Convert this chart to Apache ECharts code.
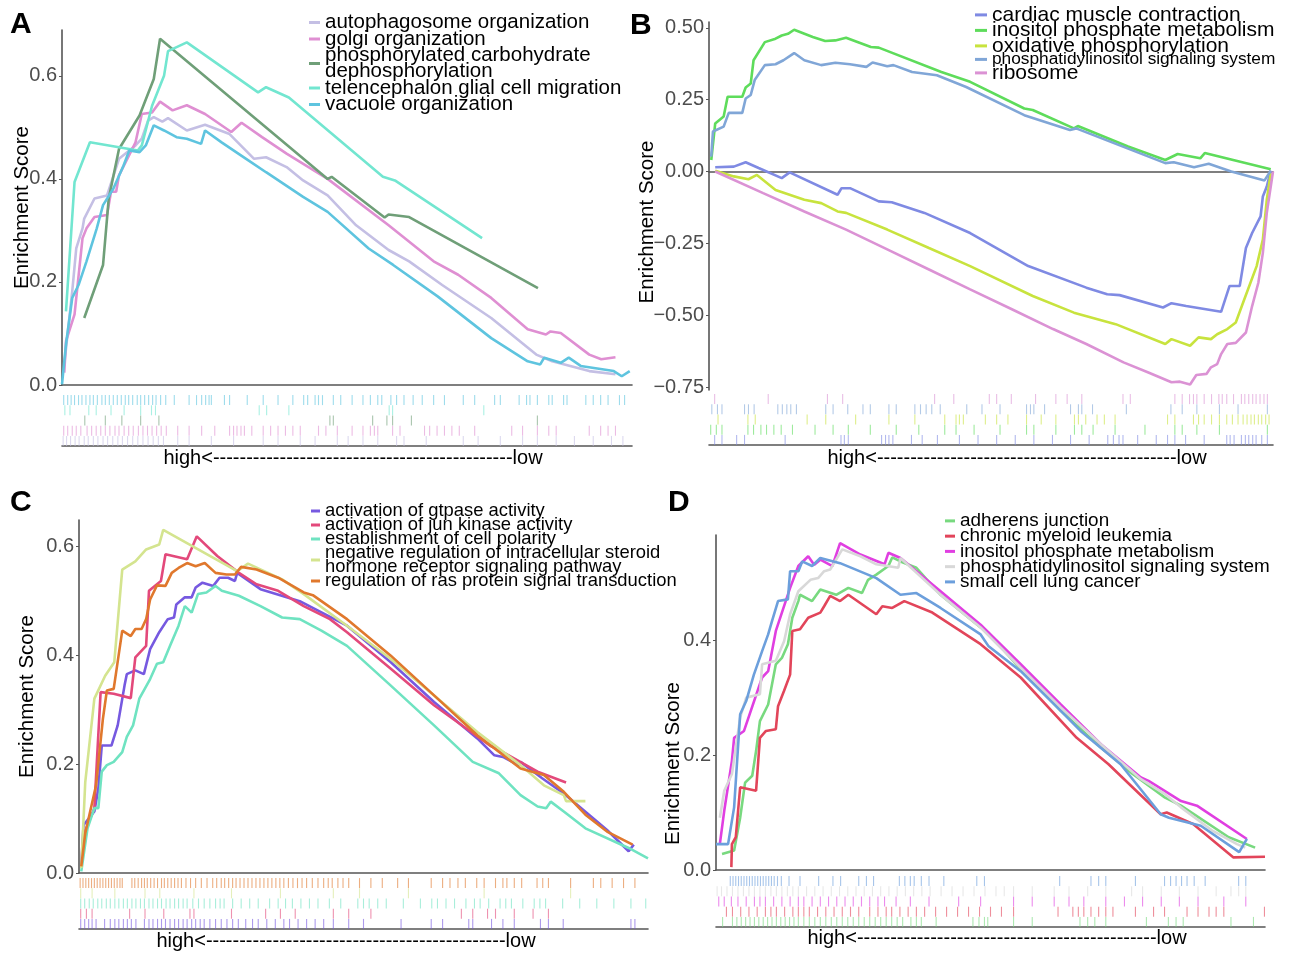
<!DOCTYPE html>
<html>
<head>
<meta charset="utf-8">
<title>GSEA running enrichment score</title>
<script src="https://cdn.jsdelivr.net/npm/echarts@6.0.0/dist/echarts.min.js"></script>
<style>
  html, body { margin: 0; padding: 0; background: #ffffff; }
  #chart { width: 1289px; height: 954px; }
</style>
</head>
<body>
<div id="chart"></div>
<script>
// x = position in ranked gene list (0-100, high -> low), y = running enrichment score

// ---------- panel A ----------
var namesA = ['autophagosome organization', 'golgi organization', 'phosphorylated carbohydrate dephosphorylation',
    'telencephalon glial cell migration', 'vacuole organization'];
var aAutophagosome = [[0.4,0.040],[1.8,0.182],[2.5,0.265],[3.6,0.304],[3.9,0.323],[5.7,0.362],[7.9,0.368],[10.0,0.439],
    [12.9,0.465],[14.0,0.478],[15.1,0.513],[16.1,0.520],[17.6,0.511],[18.6,0.518],[21.9,0.494],[25.1,0.505],[29.4,0.487],
    [33.7,0.439],[35.8,0.442],[39.4,0.423],[42.3,0.397],[46.6,0.368],[51.6,0.310],[57.3,0.262],[60.9,0.240],[66.7,0.194],
    [75.3,0.130],[83.2,0.059],[86.0,0.046],[92.5,0.027],[97.1,0.021]];
var aGolgi = [[0.4,0.024],[0.7,0.085],[2.2,0.137],[3.6,0.285],[4.3,0.304],[5.7,0.326],[7.9,0.330],[8.6,0.375],[9.5,0.375],
    [10.0,0.407],[12.9,0.471],[14.0,0.526],[15.8,0.529],[17.2,0.550],[19.4,0.533],[21.9,0.543],[25.1,0.526],[29.7,0.491],
    [31.5,0.509],[35.1,0.481],[39.4,0.449],[46.6,0.400],[57.3,0.310],[65.2,0.240],[69.5,0.214],[75.3,0.169],[81.7,0.108],
    [84.9,0.098],[85.7,0.104],[87.5,0.101],[92.5,0.059],[94.6,0.050],[97.1,0.054]];
var aPhosphorylated = [[3.9,0.130],[7.2,0.233],[8.2,0.362],[10.0,0.458],[13.6,0.523],[16.1,0.594],[17.2,0.672],[46.6,0.400],
    [47.3,0.404],[56.6,0.325],[57.3,0.331],[60.9,0.326],[83.5,0.188]];
var aTelencephalon = [[0.7,0.143],[2.2,0.394],[4.9,0.471],[13.3,0.455],[14.0,0.465],[15.8,0.542],[17.9,0.600],[18.6,0.648],
    [21.9,0.665],[34.4,0.568],[35.8,0.578],[39.8,0.558],[56.3,0.404],[58.4,0.397],[73.7,0.285]];
var aVacuole = [[0.0,0.001],[0.7,0.079],[1.8,0.169],[2.9,0.194],[4.3,0.240],[6.1,0.304],[7.2,0.349],[9.0,0.381],[10.8,0.426],
    [11.8,0.455],[13.6,0.452],[14.7,0.465],[16.1,0.504],[17.9,0.494],[20.1,0.481],[21.9,0.478],[24.4,0.468],[25.1,0.494],
    [28.0,0.471],[32.3,0.439],[35.8,0.413],[42.3,0.365],[46.6,0.336],[53.8,0.265],[58.1,0.233],[65.9,0.172],[75.3,0.091],
    [81.7,0.046],[83.9,0.040],[84.6,0.053],[87.5,0.043],[88.9,0.053],[91.0,0.037],[96.8,0.027],[98.2,0.017],[99.6,0.027]];
// gene hits (rug), same order as namesA
var rugAAutophagosome = [0.2,0.8,1.5,2.3,3,3.9,4.6,5.5,6.3,7.2,8,8.9,9.8,10.6,11.5,12.4,13.3,14.2,15.1,16,16.9,17.8,20.3,22.3,
    26.2,30.1,35.3,37.9,41.8,44.4,48.3,50.2,52.8,55.4,58.7,60,63.9,70.4,73,76.9,80.8,83.4,86.7,89.9,93.2,96.4,98.4];
var rugAGolgi = [0.3,1,1.8,2.5,3.3,4.4,5.2,6,6.8,7.6,8.4,9.3,10,10.9,11.7,12.5,13.4,14.2,15,15.8,16.6,17.4,18.3,20.3,22.3,24.5,
    26.8,29.4,30.1,30.7,31.4,32,33.3,35.3,36.6,37.9,39.2,40.5,41.8,45,46.3,48.3,50.9,52.8,54.1,54.8,55.4,58,59.3,63.6,64.5,
    65.8,67.1,68.4,69.7,72.4,78.9,80.8,83.4,85.4,86.7,92.5,94.5,95.8,97.1];
var rugAPhosphorylated = [4,7.6,10.5,13.8,17,47,47.6,54.5,57,58,61.3,83.4];
var rugATelencephalon = [0.5,1.4,4.7,6,8.6,10.9,13.8,15.7,16.4,34.6,35.9,39.8,57.4,58,74];
var rugAVacuole = [0.3,1,1.6,2.2,2.9,3.5,4.2,4.9,5.5,6.2,7,7.6,8.3,9,9.7,10.4,11.1,11.7,12.4,13.2,13.8,14.5,15.2,15.9,16.5,17.3,
    18.2,19.7,22.3,23.6,24.5,25.2,25.8,26.2,28.5,29.4,32.5,35.3,37.9,40.5,42.4,43.1,44.4,45,45.7,47.6,48.9,50.9,52.8,54.1,55.4,
    56.1,57.7,58.7,60,61.6,63.2,65.2,67.1,70.4,72.4,75.9,76.9,80.2,81.5,82.1,83.4,85.4,86,88,88.6,91.9,93.2,94.5,95.8,97.8,98.7];

// ---------- panel B ----------
var namesB = ['cardiac muscle contraction', 'inositol phosphate metabolism', 'oxidative phosphorylation',
    'phosphatidylinositol signaling system', 'ribosome'];
var bCardiac = [[1.1,0.015],[4.4,0.017],[6.5,0.032],[8.8,0.012],[12.9,-0.023],[14.3,-0.003],[22.8,-0.081],[23.5,-0.058],
    [25.0,-0.058],[30.1,-0.104],[32.4,-0.107],[38.2,-0.144],[46.3,-0.214],[56.6,-0.329],[66.9,-0.404],[70.6,-0.427],
    [72.8,-0.430],[80.5,-0.473],[82.0,-0.458],[84.6,-0.468],[90.8,-0.488],[92.3,-0.398],[94.1,-0.398],[95.2,-0.266],
    [96.3,-0.214],[97.8,-0.156],[98.2,-0.087],[98.9,-0.052],[99.6,0.003]];
var bInositol = [[0.4,0.040],[1.1,0.167],[2.6,0.191],[3.3,0.260],[5.9,0.260],[6.5,0.292],[7.4,0.306],[7.9,0.387],[9.9,0.450],
    [11.8,0.462],[12.9,0.473],[14.0,0.479],[15.1,0.493],[18.4,0.468],[20.6,0.454],[22.4,0.456],[24.3,0.465],[28.7,0.433],
    [30.1,0.431],[41.2,0.346],[46.3,0.312],[55.9,0.219],[57.4,0.214],[64.7,0.150],[65.4,0.158],[74.3,0.087],[80.9,0.040],
    [83.1,0.061],[87.1,0.046],[87.9,0.064],[99.6,0.008]];
var bOxidative = [[1.1,0.003],[4.4,-0.017],[7.0,-0.027],[8.5,-0.012],[11.8,-0.064],[16.9,-0.098],[19.9,-0.110],[22.8,-0.139],
    [24.3,-0.144],[31.6,-0.202],[39.0,-0.266],[46.3,-0.329],[57.4,-0.433],[64.7,-0.491],[72.1,-0.531],[80.9,-0.600],
    [82.0,-0.583],[85.3,-0.606],[86.8,-0.577],[89.0,-0.583],[90.1,-0.566],[91.9,-0.548],[93.4,-0.525],[94.9,-0.445],
    [97.1,-0.329],[98.2,-0.237],[98.9,-0.098],[99.6,-0.006]];
var bPhosphatidyl = [[0.4,0.052],[0.7,0.139],[2.6,0.156],[3.5,0.204],[5.9,0.204],[6.5,0.254],[7.4,0.266],[8.1,0.318],
    [9.9,0.370],[11.8,0.373],[13.2,0.387],[15.1,0.412],[16.9,0.387],[19.9,0.370],[22.4,0.378],[25.0,0.373],[27.9,0.364],
    [29.0,0.379],[31.6,0.366],[32.7,0.370],[36.0,0.346],[40.4,0.335],[45.6,0.294],[55.9,0.196],[64.0,0.144],[65.1,0.150],
    [80.9,0.029],[82.4,0.032],[86.0,0.015],[88.6,0.027],[92.6,0.000],[98.5,-0.031],[99.6,0.003]];
var bRibosome = [[1.1,0.000],[9.6,-0.075],[16.9,-0.139],[24.3,-0.202],[31.6,-0.271],[39.0,-0.341],[46.3,-0.410],[53.7,-0.479],
    [61.0,-0.548],[66.9,-0.600],[73.5,-0.664],[77.9,-0.699],[82.0,-0.733],[83.5,-0.731],[85.3,-0.741],[86.4,-0.708],
    [88.2,-0.704],[89.0,-0.681],[90.1,-0.670],[90.8,-0.635],[91.9,-0.600],[93.4,-0.596],[95.2,-0.560],[96.3,-0.468],
    [97.4,-0.387],[98.2,-0.283],[98.9,-0.144],[100,0.000]];
var rugBCardiac = [1,2.3,4.9,6.3,13.5,23.4,24,24.7,30.6,31.3,31.9,32.6,35.9,37.8,40.5,44.4,47.7,51,54.3,57.6,60.9,64.1,67.4,
    70.7,71.7,72.7,73.4,76,79.3,81.3,82.6,84.5,87.8,91.8,92.4,93.1,94.4,95.1,95.7,96.4,97,98,99];
var rugBInositol = [0.3,1.3,2.3,6.9,7.9,9.2,10.2,11.5,12.8,14.8,18.8,22,24.7,28.6,33.2,37.2,41.8,43.8,47,51.6,56.3,57.6,61.5,
    64.8,66.1,68.1,72,77.3,82.6,83.9,86.5,90.5,99];
var rugBOxidative = [1.6,6.9,8.2,17.4,20.7,26,31.9,36.5,41.8,43.8,44.4,45.1,49,51,53,56.3,58.9,61.5,64.8,65.5,66.8,68.8,70.1,
    72,81.3,82.6,85.9,86.8,87.8,89.1,90.5,91.8,92.8,93.8,94.7,95.4,96.1,96.7,97.4,98,98.7,99.3];
var rugBPhosphatidyl = [0.5,1.5,2.3,6.3,7,8,12.2,13,13.8,14.5,15.5,20.7,22,24.6,27.3,28.6,31.9,33.2,36.5,37.5,38.5,39.5,41,
    45.7,48.4,51.6,56.3,57,57.6,59.5,64.1,65.5,66.1,68,74,81.9,83.9,86.5,90.5,93.8,99];
var rugBRibosome = [1,10.5,21,23.7,40,43.4,49.7,51,53.6,57.9,61.5,63.5,66.1,73.4,74.7,82.6,83.9,85.2,85.9,86.5,87.8,89.1,
    90.4,91,91.8,93,94.4,95,95.7,96.4,97,97.7,98.4,99];

// ---------- panel C ----------
var namesC = ['activation of gtpase activity', 'activation of jun kinase activity', 'establishment of cell polarity',
    'negative regulation of intracellular steroid hormone receptor signaling pathway',
    'regulation of ras protein signal transduction'];
var cGtpase = [[0.4,0.015],[0.8,0.088],[2.7,0.113],[3.4,0.155],[4.0,0.234],[5.7,0.234],[6.8,0.271],[8.0,0.344],[8.4,0.365],
    [9.9,0.372],[11.4,0.365],[12.5,0.411],[14.1,0.442],[15.6,0.466],[16.7,0.469],[17.1,0.493],[18.6,0.506],[19.8,0.506],
    [20.5,0.524],[21.7,0.533],[23.6,0.527],[24.7,0.542],[26.2,0.542],[27.4,0.536],[27.8,0.551],[31.9,0.521],[38.8,0.499],
    [47.1,0.454],[54.8,0.387],[62.4,0.314],[70.0,0.247],[73.0,0.216],[74.5,0.213],[77.2,0.198],[77.6,0.204],[81.4,0.174],
    [85.2,0.146],[92.8,0.079],[96.6,0.040],[97.5,0.052]];
var cJun = [[0.8,0.070],[2.7,0.119],[3.8,0.332],[6.1,0.329],[9.1,0.321],[9.9,0.396],[11.8,0.417],[12.3,0.518],[14.4,0.536],
    [15.2,0.585],[19.0,0.576],[20.7,0.618],[24.3,0.582],[28.1,0.551],[31.2,0.530],[35.0,0.518],[39.5,0.490],[44.1,0.466],
    [47.1,0.442],[54.8,0.375],[62.4,0.308],[72.2,0.234],[74.5,0.222],[80.6,0.186],[85.6,0.166]];
var cPolarity = [[0.4,0.003],[1.5,0.082],[2.7,0.119],[3.4,0.119],[4.0,0.186],[4.9,0.198],[6.1,0.204],[7.6,0.222],[8.4,0.250],
    [9.5,0.271],[10.6,0.320],[12.5,0.356],[13.7,0.384],[14.8,0.387],[16.0,0.417],[17.5,0.454],[18.6,0.490],[19.8,0.478],
    [20.9,0.512],[22.4,0.515],[24.0,0.527],[25.1,0.518],[28.1,0.509],[31.9,0.490],[35.7,0.469],[38.8,0.466],[42.6,0.445],
    [47.1,0.417],[54.8,0.344],[62.4,0.271],[69.2,0.204],[73.8,0.183],[77.6,0.143],[80.6,0.122],[82.1,0.119],[82.9,0.131],
    [85.2,0.113],[89.0,0.082],[96.6,0.046],[100,0.027]];
var cNegative = [[0.4,0.009],[1.1,0.167],[2.7,0.320],[4.6,0.362],[6.2,0.387],[7.6,0.557],[9.9,0.572],[11.8,0.594],[14.1,0.603],
    [14.8,0.630],[27.8,0.554],[29.7,0.568],[35.7,0.539],[39.5,0.512],[47.1,0.454],[54.8,0.393],[62.4,0.326],[70.0,0.259],
    [77.6,0.198],[81.7,0.161],[85.2,0.143],[85.6,0.132],[89.0,0.132]];
var cRas = [[0.4,0.012],[1.1,0.073],[3.0,0.161],[4.2,0.283],[4.9,0.335],[6.1,0.338],[7.6,0.445],[9.1,0.435],[9.9,0.448],
    [11.0,0.448],[11.8,0.466],[12.5,0.502],[13.7,0.528],[15.2,0.527],[16.3,0.551],[17.5,0.560],[19.0,0.569],[20.5,0.563],
    [22.1,0.569],[24.0,0.551],[25.9,0.548],[27.4,0.548],[28.5,0.562],[31.2,0.557],[35.0,0.542],[39.5,0.515],[41.1,0.510],
    [47.1,0.466],[54.8,0.399],[62.4,0.326],[70.0,0.253],[77.6,0.192],[81.7,0.180],[85.2,0.149],[89.0,0.107],[92.8,0.076],
    [97.3,0.052]];
var rugCGtpase = [0.3,1,1.7,2.3,3,4.5,5.5,6.3,7,7.8,8.5,9.2,10,11.5,12.3,13,13.8,14.5,15.2,16,16.8,17.5,18.3,19,19.8,20.5,
    21.3,22,23,24,25,26,27,28,29.3,30.5,31.5,33,34.5,36,37,38.5,40,41.5,43,44.7,47.4,50,56.6,61.9,63.9,68.5,69.2,72.5,74.5,
    76.5,81.1,82.5,85.1,97,97.7];
var rugCJun = [0.3,1.3,2.3,8.9,11.6,14.9,19.5,20.2,26.8,32.8,35.4,38,44.7,47.4,51.3,67.2,69.2,71.8,73.2,76.5,79.8,82.5];
var rugCPolarity = [0.3,1,1.8,2.5,3.3,4,4.8,5.5,6.3,7,7.8,8.5,9.3,10,10.8,11.5,12.3,13,13.8,14.5,15.3,16,16.8,17.5,18.3,19,
    20,21,22,23,24,24.8,25.5,27,28.5,30,31.5,33.5,35,36.3,37.5,39,40.5,42,44,46,49,50,51,52.5,54,57,60,62,63,64.5,66,68,
    69.5,70.5,72,74,75,76,78,80,81,82,85,88,91,94,97,99.6];
var rugCNegative = [0.3,2.3,6.3,11.6,14.2,20.2,26.8,35.4,44.7,49.3,57.9,71.2,86.4];
var rugCRas = [0.2,0.7,1.2,1.7,2.2,2.7,3.2,3.7,4.2,4.7,5.2,5.7,6.2,6.7,7.2,7.6,9.3,9.8,10.4,11,11.5,12,12.6,13.2,13.8,14.5,
    15,15.6,16.2,16.8,17.4,18,18.8,19.6,20.5,21.5,22.5,23.5,24.2,25,25.6,26.3,27,27.6,28.3,29,29.7,30.4,31.1,31.8,32.5,33.2,
    33.9,34.6,35.3,36,36.8,37.6,38.4,39.2,40,41,42,43,43.8,44.5,45.5,46.4,47.4,49.3,51.3,53.3,56,57.9,61.9,63.9,65.2,66.6,
    67.9,69.9,71.2,73.2,74.5,75.2,76.5,77.8,80.5,81.5,82.5,86.4,90.4,91.7,93.7,95.7,97.7];

// ---------- panel D ----------
var namesD = ['adherens junction', 'chronic myeloid leukemia', 'inositol phosphate metabolism',
    'phosphatidylinositol signaling system', 'small cell lung cancer'];
var dAdherens = [[1.1,0.028],[3.3,0.034],[4.4,0.091],[5.3,0.152],[6.6,0.164],[7.3,0.207],[8.0,0.259],[9.5,0.288],[10.9,0.358],
    [12.0,0.369],[13.1,0.393],[13.9,0.439],[15.0,0.468],[15.3,0.479],[17.5,0.468],[19.0,0.488],[21.9,0.479],[24.1,0.491],
    [26.6,0.482],[27.7,0.505],[29.2,0.514],[31.4,0.529],[32.1,0.544],[33.6,0.537],[36.5,0.526],[40.9,0.479],[48.2,0.422],
    [49.6,0.413],[55.5,0.349],[62.8,0.277],[70.1,0.213],[75.9,0.167],[81.8,0.126],[84.7,0.112],[93.4,0.057],[98.2,0.039]];
var dLeukemia = [[2.8,0.005],[2.9,0.045],[3.6,0.057],[4.4,0.144],[7.3,0.138],[8.0,0.230],[9.1,0.242],[10.9,0.245],[11.3,0.285],
    [12.4,0.312],[13.5,0.340],[13.9,0.416],[15.3,0.419],[16.8,0.439],[19.0,0.448],[19.7,0.459],[20.8,0.477],[22.6,0.468],
    [24.1,0.479],[29.2,0.445],[30.3,0.459],[32.1,0.456],[34.3,0.468],[39.4,0.448],[48.2,0.393],[55.5,0.335],[65.7,0.230],
    [71.5,0.184],[81.0,0.097],[82.1,0.100],[86.9,0.080],[94.2,0.022],[100,0.023]];
var dInositol = [[0.7,0.045],[1.5,0.103],[2.9,0.190],[3.3,0.230],[5.1,0.242],[8.4,0.335],[9.5,0.346],[10.9,0.416],[13.5,0.491],
    [15.0,0.529],[16.8,0.546],[17.9,0.531],[19.0,0.540],[21.2,0.529],[22.6,0.569],[26.3,0.549],[30.7,0.532],[31.4,0.552],
    [33.6,0.543],[40.9,0.485],[48.2,0.427],[55.5,0.358],[62.8,0.288],[70.1,0.219],[77.4,0.161],[78.8,0.155],[84.7,0.120],
    [87.6,0.112],[96.7,0.054]];
var dPhosphatidyl = [[0.7,0.091],[1.5,0.138],[2.9,0.167],[4.4,0.265],[5.5,0.300],[8.0,0.306],[8.4,0.358],[10.9,0.364],
    [12.4,0.398],[13.5,0.445],[15.0,0.485],[17.2,0.505],[18.6,0.508],[19.7,0.520],[20.8,0.523],[23.0,0.558],[26.3,0.546],
    [29.2,0.532],[33.2,0.526],[33.6,0.543],[40.9,0.479],[48.2,0.422],[55.5,0.352],[62.8,0.283],[70.1,0.219],[77.4,0.158],
    [81.8,0.132],[84.7,0.109],[90.5,0.068],[94.9,0.045],[96.4,0.039]];
var dSmallCell = [[0.0,0.045],[2.2,0.045],[3.3,0.109],[4.4,0.271],[5.5,0.294],[6.9,0.340],[8.4,0.381],[9.5,0.410],[10.2,0.433],
    [11.3,0.468],[13.1,0.471],[13.5,0.520],[15.0,0.520],[15.7,0.537],[17.5,0.529],[19.0,0.543],[22.6,0.534],[29.2,0.508],
    [33.6,0.479],[36.5,0.482],[40.9,0.456],[48.2,0.410],[49.6,0.390],[55.5,0.346],[62.8,0.277],[66.4,0.242],[73.7,0.184],
    [81.0,0.097],[82.5,0.091],[88.3,0.077],[95.3,0.031],[96.7,0.054]];
var rugDAdherens = [1.2,3,3.8,4.6,5.4,6.2,7,7.8,8.6,9.4,10.2,11,11.8,12.6,13.4,14.2,15,16,17,18,19,20,21,22,23,24,25,26,27,
    28,29,30,31,32,33,34,35.5,36.5,37.4,40.1,46.8,47.9,48.9,49.5,54.2,57.6,66.3,67.7,69,71,78.4,82.4,83.8,85.1,93.8,97.9];
var rugDLeukemia = [1.9,3,4.5,6,7.5,9,10,11,12.5,14,15,16,17,18.5,20,21.5,23,24.5,26,28,29.5,31,32,33.5,35,36.5,38,40,42,44,
    46,48,50,52,54.2,62.3,65,66,67,68.3,69.7,71,72.3,76.4,79.7,81.7,85.8,87.8,89.8,91.1,92.5,99.9];
var rugDInositol = [0.5,1.5,2.8,4,5.5,7,8,9,10.5,12,13.5,15,16,17.5,19,20.5,22,23.5,25,26.5,28,29.5,30.7,32.8,35.4,38.8,44.2,
    48.2,54.2,57.6,61.6,64.3,67,71,74.4,77.7,81.1,84.4,87.8,92.5,96.5];
var rugDPhosphatidyl = [0.2,1,2,3,4,5,6,7,8,9,10,11,12,13,14,15,16.5,18,19.5,21,22.5,24,25.5,27,28.5,30,31.5,33,34.5,36,37.5,
    39,41,43,45,47,49,51,52.5,54.2,57.6,61.6,64.3,67.7,71,75.7,77.7,81.1,84.4,87.8,91.1,93.8,95.2,96.5];
var rugDSmallCell = [2.6,3.1,3.6,4.1,4.6,5.1,5.6,6.1,6.6,7.1,7.6,8.1,8.6,9.1,9.6,10.1,10.6,11.2,11.9,13.3,15.3,18.7,21.3,22.7,
    26,27.4,28.7,33.4,34.4,35.4,36.1,37.4,38.8,41.5,47.5,48.9,62.6,68.3,69.7,71,76.4,81.7,82.8,83.8,84.8,85.8,87.1,89.1,95.2,96.5];

// y axis tick labels
var ticksA = [0, 0.2, 0.4, 0.6];
var ticksB = [-0.75, -0.5, -0.25, 0, 0.25, 0.5];
var ticksC = [0, 0.2, 0.4, 0.6];
var ticksD = [0, 0.2, 0.4];

var colorsA = ['#c4bfe4', '#df8fd2', '#6f9f78', '#72e6d0', '#5ec4df'];
var colorsB = ['#7f8ae3', '#5edc5b', '#c8e33e', '#80a6d7', '#db92d4'];
var colorsC = ['#7659e0', '#e3497b', '#6fe3c1', '#d4e48f', '#e0782d'];
var colorsD = ['#78d97f', '#e2455a', '#e03fe1', '#d8d8d8', '#6c9fdc'];

var FONT = '"Liberation Sans", Arial, Helvetica, sans-serif';
var SCALE_TEXT = 'high<---------------------------------------------low';

var panels = [
    {
        letter: 'A', names: namesA, colors: colorsA, ticks: ticksA, digits: 1,
        curves: [aAutophagosome, aGolgi, aPhosphorylated, aTelencephalon, aVacuole],
        rugs: [rugAAutophagosome, rugAGolgi, rugAPhosphorylated, rugATelencephalon, rugAVacuole],
        letterPos: [10, 10],
        main: { left: 62, top: 30, width: 570, height: 355 }, yMin: 0, yMax: 0.689,
        rug: { left: 62, top: 395, width: 570, height: 51 },
        nameGap: 29, namePad: [0, 0, 0, 0], scalePad: [0, 0, 0, 12], scaleGap: 2,
        legend: { left: 309, top: 12, iconW: 11, fontSize: 20.5, lineHeight: 16, gap: -4.5 }
    },
    {
        letter: 'B', names: namesB, colors: colorsB, ticks: ticksB, digits: 2,
        curves: [bCardiac, bInositol, bOxidative, bPhosphatidyl, bRibosome],
        rugs: [rugBCardiac, rugBInositol, rugBOxidative, rugBPhosphatidyl, rugBRibosome],
        letterPos: [630, 11],
        main: { left: 709, top: 22, width: 564, height: 368 }, yMin: -0.76, yMax: 0.52,
        rug: { left: 709, top: 394, width: 564, height: 51 },
        nameGap: 51, namePad: [0, 32, 0, 0], scalePad: [0, 0, 0, 52], scaleGap: 3,
        legend: { left: 975, top: 4.4, iconW: 12, fontSize: 21, lineHeight: 15.3, gap: -5.5, small: { 3: 17.3 } }
    },
    {
        letter: 'C', names: namesC, colors: colorsC, ticks: ticksC, digits: 1,
        curves: [cGtpase, cJun, cPolarity, cNegative, cRas],
        rugs: [rugCGtpase, rugCJun, rugCPolarity, rugCNegative, rugCRas],
        letterPos: [10, 488],
        main: { left: 79, top: 520, width: 569, height: 353 }, yMin: 0, yMax: 0.648,
        rug: { left: 79, top: 878, width: 569, height: 51 },
        nameGap: 41, namePad: [0, 0, 0, 0], scalePad: [0, 35, 0, 0], scaleGap: 2,
        legend: { left: 311, top: 502, iconW: 9, fontSize: 18.4, lineHeight: 14, gap: -4 }
    },
    {
        letter: 'D', names: namesD, colors: colorsD, ticks: ticksD, digits: 1,
        curves: [dAdherens, dLeukemia, dInositol, dPhosphatidyl, dSmallCell],
        rugs: [rugDAdherens, rugDLeukemia, rugDInositol, rugDPhosphatidyl, rugDSmallCell],
        letterPos: [668, 488],
        main: { left: 716, top: 535, width: 549, height: 335 }, yMin: 0, yMax: 0.583,
        rug: { left: 716, top: 876, width: 549, height: 51 },
        nameGap: 32, namePad: [0, 122, 0, 0], scalePad: [0, 0, 0, 13], scaleGap: 1,
        legend: { left: 945, top: 511.4, iconW: 10, fontSize: 18.9, lineHeight: 15.25, gap: -3.75 }
    }
];

var twoLine = {
    'phosphorylated carbohydrate dephosphorylation': 'phosphorylated carbohydrate\ndephosphorylation',
    'negative regulation of intracellular steroid hormone receptor signaling pathway':
        'negative regulation of intracellular steroid\nhormone receptor signaling pathway'
};

function tickLabel(v, digits) {
    var s = Math.abs(v).toFixed(digits);
    return v < -1e-9 ? '\u2212' + s : s;
}

function buildOption() {
    var option = {
        animation: false,
        backgroundColor: '#ffffff',
        textStyle: { fontFamily: FONT },
        title: [], grid: [], xAxis: [], yAxis: [], legend: [], series: []
    };

    panels.forEach(function (p, i) {
        var mi = i, ri = i + 4;

        option.title.push({
            text: p.letter, left: p.letterPos[0], top: p.letterPos[1], padding: 0,
            textStyle: { fontSize: 30, fontWeight: 'bold', color: '#000', fontFamily: FONT }
        });

        option.grid[mi] = { left: p.main.left, top: p.main.top, width: p.main.width, height: p.main.height,
            containLabel: false, outerBoundsMode: 'none' };
        option.grid[ri] = { left: p.rug.left, top: p.rug.top, width: p.rug.width, height: p.rug.height,
            containLabel: false, outerBoundsMode: 'none' };

        // running score axes
        option.xAxis[mi] = {
            type: 'value', gridIndex: mi, min: 0, max: 100,
            axisLine: { show: true, onZero: true, lineStyle: { color: '#555', width: 1.6 } },
            axisTick: { show: false }, axisLabel: { show: false }, splitLine: { show: false }
        };
        option.yAxis[mi] = {
            type: 'value', gridIndex: mi, min: p.yMin, max: p.yMax,
            name: 'Enrichment Score', nameLocation: 'middle', nameGap: p.nameGap, nameMoveOverlap: false,
            nameTextStyle: { fontSize: 20.5, color: '#000', fontFamily: FONT, padding: p.namePad },
            axisLine: { show: true, lineStyle: { color: '#555', width: 1.6 } },
            axisTick: { show: true, length: 3, customValues: p.ticks, lineStyle: { color: '#555' } },
            axisLabel: {
                customValues: p.ticks, margin: 5, fontSize: 20, color: '#4d4d4d', fontFamily: FONT,
                formatter: (function (d) { return function (v) { return tickLabel(v, d); }; })(p.digits)
            },
            splitLine: { show: false }
        };

        // rug axes
        option.xAxis[ri] = {
            type: 'value', gridIndex: ri, min: 0, max: 100,
            name: SCALE_TEXT, nameLocation: 'middle', nameGap: p.scaleGap, nameMoveOverlap: false,
            nameTextStyle: { fontSize: 20, color: '#000', fontFamily: FONT, padding: p.scalePad, verticalAlign: 'top' },
            axisLine: { show: true, onZero: false, lineStyle: { color: '#555', width: 1.6 } },
            axisTick: { show: false }, axisLabel: { show: false }, splitLine: { show: false }
        };
        option.yAxis[ri] = {
            type: 'category', gridIndex: ri, data: ['r1', 'r2', 'r3', 'r4', 'r5'], inverse: true, show: false
        };

        var legendData = [];
        p.names.forEach(function (name, k) {
            var color = p.colors[k];
            option.series.push({
                name: name, type: 'line', xAxisIndex: mi, yAxisIndex: mi,
                data: p.curves[k], symbol: 'none', smooth: false,
                lineStyle: { width: 2.6, color: color }, itemStyle: { color: color }
            });
            // rug rows: last legend entry on top
            option.series.push({
                name: 'hits ' + p.letter + k, type: 'scatter', xAxisIndex: ri, yAxisIndex: ri,
                data: p.rugs[k].map(function (x) { return [x, 4 - k]; }),
                symbol: 'rect', symbolSize: [1.1, 10], silent: true,
                itemStyle: { color: color, opacity: 0.6 }
            });
            var item = { name: name, itemStyle: { color: color } };
            if (p.legend.small && p.legend.small[k]) {
                item.textStyle = { fontSize: p.legend.small[k] };
            }
            legendData.push(item);
        });

        option.legend.push({
            orient: 'vertical', left: p.legend.left, top: p.legend.top, padding: 0,
            itemGap: p.legend.gap, itemWidth: p.legend.iconW, itemHeight: 3, icon: 'rect',
            selectedMode: false, data: legendData,
            textStyle: { fontSize: p.legend.fontSize, lineHeight: p.legend.lineHeight, color: '#000', fontFamily: FONT },
            formatter: function (name) { return twoLine[name] || name; }
        });
    });
    return option;
}

var chart = echarts.init(document.getElementById('chart'), null, { renderer: 'canvas' });
chart.setOption(buildOption());
</script>
</body>
</html>
